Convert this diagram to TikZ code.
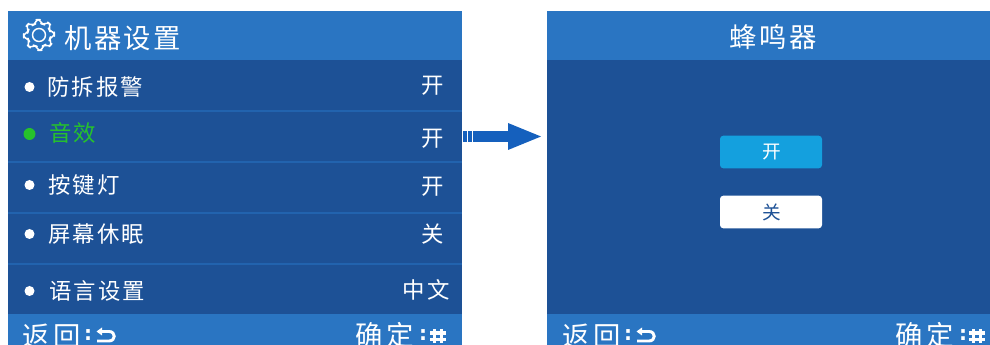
\documentclass[tikz,border=0pt]{standalone}
\usepackage{fontspec}
\newfontfamily\cjk[LetterSpace=9]{Noto Sans CJK SC}
\newfontfamily\cjkf[LetterSpace=14]{Noto Sans CJK SC}
\newfontfamily\cjkb{DejaVu Sans Bold}
\definecolor{head}{HTML}{2A75C2}
\definecolor{body}{HTML}{1D5196}
\definecolor{rule}{HTML}{2263AE}
\definecolor{arrowc}{HTML}{1560BD}
\definecolor{sel}{HTML}{26C22C}
\definecolor{btn}{HTML}{14A0DE}
\tikzset{
  x=0.75pt,y=-0.75pt,
  panel/.style={fill=body,draw=none},
  band/.style={fill=head,draw=none},
  divider/.style={rule,line width=0.8pt},
  bullet/.style={circle,fill=white,draw=none,minimum size=7.5pt,inner sep=0pt},
  title/.style={text=white,font=\cjk\fontsize{20.5pt}{24pt}\selectfont,inner sep=0pt},
  label/.style={text=white,font=\cjk\fontsize{16.8pt}{20pt}\selectfont,inner sep=0pt},
  foot/.style={text=white,font=\cjkf\fontsize{20.5pt}{24pt}\selectfont,inner sep=0pt},
  choice/.style={rounded corners=2.5pt,minimum width=76.5pt,minimum height=24.5pt,inner sep=0pt,font=\cjk\fontsize{14pt}{16pt}\selectfont},
  ret/.style={white,line width=2.2pt},
  hashbar/.style={white,line width=2.6pt},
  colonmark/.style={text=white,font=\cjkb\fontsize{15pt}{17pt}\selectfont,inner sep=0pt},
}
\newcommand{\hashicon}[2]{%
  \draw[hashbar] (#1-3.5,#2-7) -- (#1-3.5,#2+7);
  \draw[hashbar] (#1+3.5,#2-7) -- (#1+3.5,#2+7);
  \draw[hashbar] (#1-8,#2-3) -- (#1+8,#2-3);
  \draw[hashbar] (#1-8,#2+3.5) -- (#1+8,#2+3.5);
}
\begin{document}
\begin{tikzpicture}
\useasboundingbox (0,0) rectangle (990,345);
\clip (0,0) rectangle (990,345);
% left panel
\fill[panel] (8,60) rectangle (462,315);
\fill[band] (8,11) rectangle (462,60);
\fill[band] (8,314) rectangle (462,345);
\foreach \yy in {111,162,213,264} \draw[divider] (8,\yy) -- (462,\yy);
% gear
\begin{scope}[shift={(39,35)}]
\draw[white,line width=1.1pt,line join=round,rounded corners=1.5pt]
  plot[samples at={0,...,47},variable=\t] ({(mod(\t,6)<3?15.5:11.5)*cos(7.5*\t-11)},{(mod(\t,6)<3?15.5:11.5)*sin(7.5*\t-11)}) -- cycle;
\draw[white,line width=1.1pt] (0,0) circle[radius=6.5];
\end{scope}
\node[title,anchor=west] (t1) at (64,38) {机器设置};
\foreach \nm/\yy/\xx/\txt/\val/\vy/\ve in {a/87/47/防拆报警/开/86/444,c/185/48/按键灯/开/187/444,d/234/48/屏幕休眠/关/234/444,e/291/49/语言设置/中文/290/450}{
  \node[bullet] (b\nm) at (29.5,\yy) {};
  \node[label,anchor=west] (l\nm) at (\xx,\yy) {\txt};
  \node[label,anchor=east] (v\nm) at (\ve,\vy) {\val};
}
\node[bullet,fill=sel,minimum size=9pt] (bb) at (29.5,134) {};
\node[label,anchor=west,text=sel] (lb) at (49,133) {音效};
\node[label,anchor=east] (vb) at (444,139) {开};
\node[foot,anchor=west] (back1) at (22,336) {返回};
\node[colonmark] (c1) at (88,335) {:};
\node[foot,anchor=west] (ok1) at (355,335) {确定};
\node[colonmark] (c2) at (423,335) {:};
\draw[ret] (101,331.5) -- (109,331.5) .. controls (116,331.5) and (116,341) .. (109,341) -- (97,341);
\fill[white] (96.5,331.5) -- (102,327.5) -- (102,335.5) -- cycle;
\hashicon{438}{336}
% arrow
\fill[arrowc] (473,131) rectangle (508,142);
\fill[arrowc] (508,123) -- (541,136.5) -- (508,150) -- cycle;
\fill[arrowc] (463,131) rectangle (467,142);
\fill[arrowc] (468,131) rectangle (471.5,142);
% right panel
\fill[panel] (547,60) rectangle (990,315);
\fill[band] (547,11) rectangle (990,60);
\fill[band] (547,314) rectangle (990,345);
\node[title,text=white] (t2) at (773,37) {蜂鸣器};
\node[choice,fill=btn,text=white] (on) at (771,152) {\hspace*{1pt}开};
\node[choice,fill=white,text=body] (off) at (771,212) {\hspace*{1pt}关};
\node[foot,anchor=west] (back2) at (562,336) {返回};
\node[colonmark] (c3) at (628,335) {:};
\node[foot,anchor=west] (ok2) at (895,335) {确定};
\node[colonmark] (c4) at (963,335) {:};
\draw[ret] (641,331.5) -- (649,331.5) .. controls (656,331.5) and (656,341) .. (649,341) -- (637,341);
\fill[white] (636.5,331.5) -- (642,327.5) -- (642,335.5) -- cycle;
\hashicon{977}{336}
\end{tikzpicture}
\end{document}
